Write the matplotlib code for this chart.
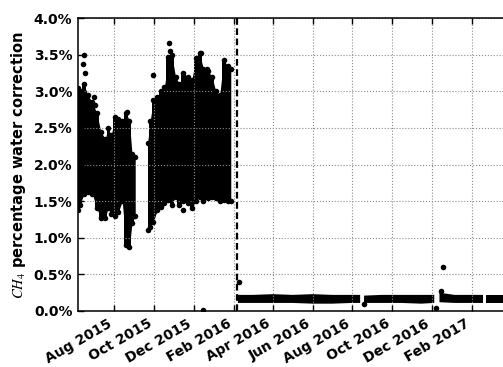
import matplotlib
matplotlib.use("Agg")
import matplotlib.pyplot as plt
import numpy as np
import pandas as pd

plt.rcParams['font.family'] = ['DejaVu Sans']
plt.rcParams['mathtext.fontset'] = 'stix'

# ---- data (percent) ----
seg1_dates = ["2015-06-06", "2015-06-09", "2015-06-15", "2015-06-21", "2015-06-28",
              "2015-07-05", "2015-07-11", "2015-07-18", "2015-07-22", "2015-07-27",
              "2015-08-02", "2015-08-07", "2015-08-13", "2015-08-19", "2015-08-24",
              "2015-08-28", "2015-09-02"]
seg1_high = [3.05, 3.00, 3.10, 2.95, 2.85, 2.70, 2.45, 2.35, 2.50, 2.40,
             2.65, 2.62, 2.60, 2.70, 2.60, 2.15, 2.10]
seg1_low = [1.38, 1.45, 1.60, 1.62, 1.60, 1.40, 1.27, 1.27, 1.40, 1.32,
            1.30, 1.35, 1.50, 0.90, 0.87, 1.20, 1.30]

seg2_dates = ["2015-09-21", "2015-09-25", "2015-09-30", "2015-10-06", "2015-10-11",
              "2015-10-17", "2015-10-23", "2015-10-28", "2015-11-03", "2015-11-09",
              "2015-11-15", "2015-11-22", "2015-11-28", "2015-12-04", "2015-12-10",
              "2015-12-16", "2015-12-23", "2015-12-29", "2016-01-04", "2016-01-10",
              "2016-01-16", "2016-01-22", "2016-01-27"]
seg2_high = [2.29, 2.60, 2.88, 2.92, 3.00, 3.06, 3.47, 3.50, 3.20, 3.10,
             3.25, 3.20, 3.15, 3.45, 3.52, 3.30, 3.28, 3.20, 3.00, 2.95,
             3.43, 3.35, 3.30]
seg2_low = [1.11, 1.15, 1.22, 1.38, 1.45, 1.47, 1.52, 1.45, 1.56, 1.45,
            1.50, 1.47, 1.40, 1.50, 1.56, 1.50, 1.55, 1.56, 1.55, 1.50,
            1.52, 1.50, 1.50]

seg3_dates = ["2016-02-07", "2016-03-01", "2016-04-01", "2016-05-01", "2016-06-01",
              "2016-07-01", "2016-08-01", "2016-08-13", None,
              "2016-08-19", "2016-09-15", "2016-10-15", "2016-11-15", "2016-12-05", None,
              "2016-12-13", "2017-01-05", "2017-02-01", "2017-02-18", None,
              "2017-02-23", "2017-03-15", "2017-04-05"]
seg3_high = [0.22, 0.22, 0.23, 0.22, 0.23, 0.22, 0.22, 0.22, None,
             0.21, 0.22, 0.22, 0.22, 0.22, None,
             0.25, 0.22, 0.22, 0.22, None,
             0.22, 0.22, 0.22]
seg3_low = [0.11, 0.11, 0.11, 0.11, 0.10, 0.10, 0.11, 0.11, None,
            0.11, 0.11, 0.11, 0.10, 0.11, None,
            0.12, 0.11, 0.11, 0.11, None,
            0.11, 0.11, 0.11]

dot_dates = ["2015-06-15", "2015-06-13", "2015-06-16", "2015-07-01", "2015-07-02",
             "2015-08-20", "2015-10-24", "2015-10-25", "2015-09-30", "2015-12-12",
             "2015-12-22", "2015-10-11", "2015-11-14", "2015-12-16",
             "2016-02-08", "2016-08-19", "2016-12-08", "2016-12-18", "2016-12-15"]
dot_vals = [3.50, 3.38, 3.25, 2.92, 2.82,
            2.72, 3.66, 3.55, 3.22, 3.52,
            3.30, 1.42, 1.38, 0.02,
            0.40, 0.10, 0.04, 0.60, 0.27]

change_date = "2016-02-06"

tick_labels = ["Aug 2015", "Oct 2015", "Dec 2015", "Feb 2016", "Apr 2016",
               "Jun 2016", "Aug 2016", "Oct 2016", "Dec 2016", "Feb 2017"]
y_ticks = [0.0, 0.5, 1.0, 1.5, 2.0, 2.5, 3.0, 3.5, 4.0]

# ---- figure ----
fig = plt.figure(figsize=(5.03, 3.67), dpi=100)
ax = fig.add_axes([0.1551, 0.1526, 0.8646, 0.798])


def to_dt(lst):
    return pd.to_datetime(pd.Series(lst))


for dates, lo, hi in [(seg1_dates, seg1_low, seg1_high),
                      (seg2_dates, seg2_low, seg2_high)]:
    d = to_dt(dates)
    ax.fill_between(d, lo, hi, color='black', step='mid', lw=0)
    ax.fill_between(d, lo, hi, color='black', lw=0)
    ax.scatter(d, hi, s=16, color='black', zorder=3, lw=0)
    ax.scatter(d, lo, s=16, color='black', zorder=3, lw=0)

d3 = to_dt(seg3_dates)
lo3 = np.array([np.nan if v is None else v for v in seg3_low], dtype=float)
hi3 = np.array([np.nan if v is None else v for v in seg3_high], dtype=float)
ax.fill_between(d3, lo3, hi3, color='black', lw=0)

ax.scatter(to_dt(dot_dates), dot_vals, s=16, color='black', zorder=3, lw=0)

ax.axvline(pd.Timestamp(change_date), color='black', lw=1.6,
           ls=(0, (3, 1.6)), zorder=4)

ax.set_xlim(pd.Timestamp("2015-06-06"), pd.Timestamp("2017-04-05"))
ax.set_ylim(0, 4.0)

tick_dates = pd.to_datetime(tick_labels, format="%b %Y")
ax.set_xticks(tick_dates)
ax.set_xticklabels(tick_labels, rotation=30, ha='right',
                   fontsize=10, fontweight='bold')
ax.set_yticks(y_ticks)
ax.set_yticklabels([f"{v:.1f}%" for v in y_ticks], fontsize=10, fontweight='bold')

ax.tick_params(direction='in', length=4, width=1, top=True, right=True, pad=4)
ax.grid(True, color='0.55', ls=':', lw=0.8)
for s in ax.spines.values():
    s.set_linewidth(1.1)

ax.set_ylabel(r"$CH_4$ percentage water correction", fontsize=10.5,
              fontweight='bold', labelpad=4)

fig.savefig("out.png", dpi=100)
